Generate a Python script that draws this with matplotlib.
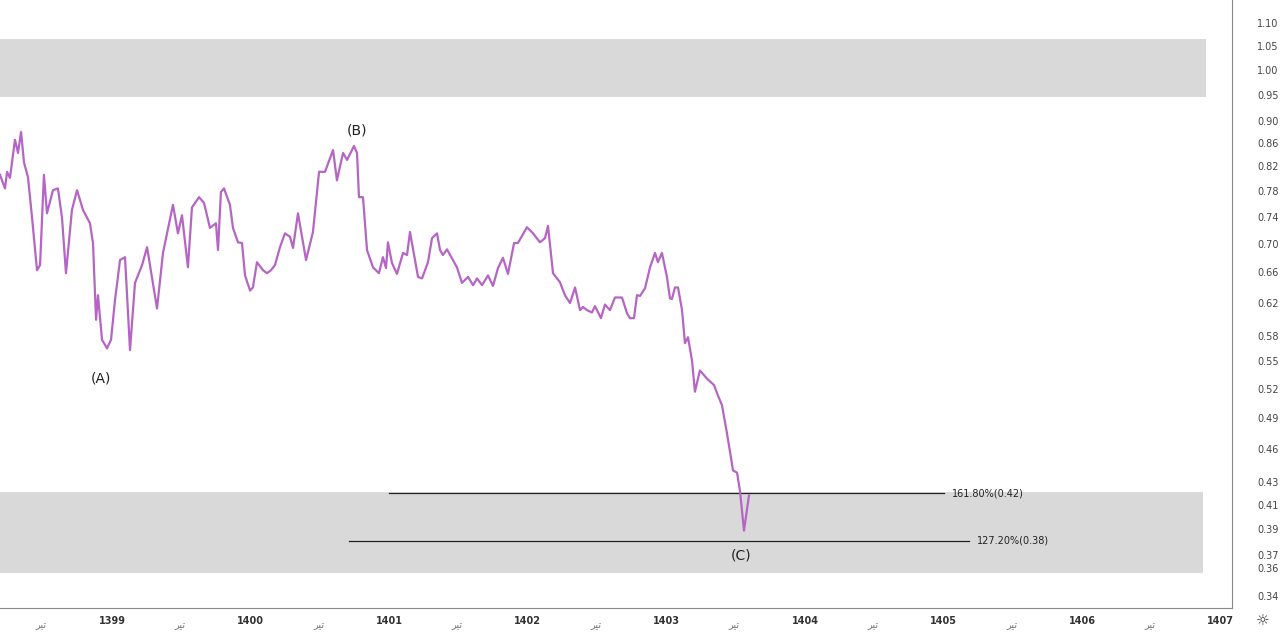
import matplotlib
matplotlib.use("Agg")
import matplotlib.pyplot as plt
from matplotlib.ticker import FixedLocator, NullLocator

years = [
    1398.192, 1398.228, 1398.243, 1398.264, 1398.300, 1398.322, 1398.344, 1398.365, 1398.394, 1398.423,
    1398.459, 1398.481, 1398.509, 1398.531, 1398.574, 1398.610, 1398.639, 1398.668, 1398.711, 1398.748,
    1398.791, 1398.841, 1398.863, 1398.885, 1398.899, 1398.928, 1398.964, 1398.993, 1399.022, 1399.058,
    1399.094, 1399.130, 1399.166, 1399.217, 1399.253, 1399.325, 1399.368, 1399.440, 1399.476, 1399.505,
    1399.548, 1399.577, 1399.628, 1399.664, 1399.707, 1399.750, 1399.765, 1399.786, 1399.808, 1399.851,
    1399.873, 1399.909, 1399.938, 1399.960, 1399.996, 1400.017, 1400.046, 1400.090, 1400.118, 1400.147,
    1400.176, 1400.212, 1400.248, 1400.284, 1400.306, 1400.342, 1400.400, 1400.450, 1400.494, 1400.537,
    1400.595, 1400.623, 1400.667, 1400.696, 1400.746, 1400.768, 1400.782, 1400.811, 1400.840, 1400.883,
    1400.926, 1400.955, 1400.977, 1400.991, 1401.020, 1401.056, 1401.100, 1401.129, 1401.150, 1401.208,
    1401.237, 1401.280, 1401.309, 1401.345, 1401.367, 1401.388, 1401.417, 1401.460, 1401.489, 1401.525,
    1401.569, 1401.605, 1401.634, 1401.670, 1401.713, 1401.749, 1401.785, 1401.821, 1401.857, 1401.901,
    1401.929, 1401.994, 1402.038, 1402.088, 1402.124, 1402.146, 1402.182, 1402.232, 1402.268, 1402.305,
    1402.341, 1402.377, 1402.398, 1402.427, 1402.463, 1402.485, 1402.528, 1402.557, 1402.593, 1402.629,
    1402.680, 1402.716, 1402.737, 1402.766, 1402.788, 1402.810, 1402.846, 1402.882, 1402.918, 1402.939,
    1402.968, 1403.004, 1403.026, 1403.040, 1403.062, 1403.084, 1403.113, 1403.134, 1403.156, 1403.185,
    1403.206, 1403.242, 1403.293, 1403.344, 1403.372, 1403.401, 1403.437, 1403.481, 1403.510, 1403.531,
    1403.560, 1403.596,
]
prices = [
    0.806, 0.784, 0.811, 0.801, 0.866, 0.843, 0.880, 0.827, 0.802, 0.739,
    0.663, 0.670, 0.806, 0.745, 0.781, 0.784, 0.739, 0.659, 0.750, 0.781,
    0.750, 0.730, 0.701, 0.599, 0.630, 0.575, 0.565, 0.575, 0.624, 0.677,
    0.681, 0.563, 0.646, 0.670, 0.695, 0.613, 0.687, 0.758, 0.715, 0.742,
    0.667, 0.754, 0.770, 0.761, 0.723, 0.730, 0.691, 0.778, 0.784, 0.758,
    0.723, 0.702, 0.701, 0.656, 0.636, 0.640, 0.674, 0.663, 0.659, 0.663,
    0.670, 0.695, 0.715, 0.710, 0.694, 0.745, 0.677, 0.717, 0.811, 0.811,
    0.848, 0.797, 0.843, 0.831, 0.855, 0.843, 0.770, 0.770, 0.691, 0.667,
    0.659, 0.681, 0.666, 0.702, 0.673, 0.658, 0.687, 0.684, 0.717, 0.654,
    0.652, 0.674, 0.708, 0.715, 0.691, 0.684, 0.692, 0.677, 0.667, 0.646,
    0.654, 0.643, 0.652, 0.643, 0.656, 0.642, 0.666, 0.680, 0.658, 0.701,
    0.701, 0.724, 0.715, 0.702, 0.708, 0.726, 0.659, 0.647, 0.630, 0.620,
    0.640, 0.611, 0.615, 0.611, 0.608, 0.616, 0.601, 0.618, 0.611, 0.627,
    0.627, 0.607, 0.601, 0.601, 0.630, 0.629, 0.639, 0.667, 0.687, 0.674,
    0.687, 0.654, 0.626, 0.625, 0.640, 0.640, 0.611, 0.571, 0.578, 0.551,
    0.517, 0.540, 0.531, 0.524, 0.513, 0.503, 0.475, 0.440, 0.438, 0.422,
    0.389, 0.418,
]

year_ticks = [1399, 1400, 1401, 1402, 1403, 1404, 1405, 1406, 1407]
month_ticks = [1398.49, 1399.49, 1400.49, 1401.49, 1402.49, 1403.49, 1404.49, 1405.49, 1406.49]
month_label = "\uFEAE\uFBFF\uFE97"  # تیر, pre-shaped
price_ticks = [1.10, 1.05, 1.00, 0.95, 0.90, 0.86, 0.82, 0.78, 0.74, 0.70, 0.66, 0.62,
               0.58, 0.55, 0.52, 0.49, 0.46, 0.43, 0.41, 0.39, 0.37, 0.36, 0.34]
bands = [(0.945, 1.0645, 1406.893), (0.357, 0.421, 1406.872)]
fib_levels = [("161.80%(0.42)", 0.42, 1400.999, 1405.003), ("127.20%(0.38)", 0.381, 1400.71, 1405.18)]
wave_labels = [("(A)", 1398.92, 0.531), ("(B)", 1400.768, 0.883), ("(C)", 1403.54, 0.370)]

x_min, x_max = 1398.192, 1407.081

fig = plt.figure(figsize=(12.8, 6.32), dpi=100)
ax = fig.add_axes([0, 24 / 632, 1232 / 1280, 608 / 632])
ax.set_yscale("log")
ax.set_xlim(x_min, x_max)
ax.set_ylim(0.332, 1.153)

for low, high, right in bands:
    ax.fill_between([x_min, right], low, high, color="#d9d9d9", linewidth=0, zorder=0)

ax.plot(years, prices, color="#b565c4", linewidth=1.6, zorder=3)

for label, level, start, end in fib_levels:
    ax.plot([start, end], [level, level], color="#222222", linewidth=0.9, zorder=2)
    ax.text(end + 0.06, level, label, fontsize=7, va="center", ha="left", color="#222222")

for label, x, y in wave_labels:
    ax.text(x, y, label, fontsize=10, ha="center", va="center", color="#222222")

for side in ["top", "left"]:
    ax.spines[side].set_visible(False)
ax.spines["right"].set_color("#888888")
ax.spines["bottom"].set_color("#888888")

ax.yaxis.tick_right()
ax.yaxis.set_major_locator(FixedLocator(price_ticks))
ax.yaxis.set_minor_locator(NullLocator())
ax.set_yticklabels([f"{v:.2f}" for v in price_ticks])
ax.tick_params(axis="y", length=0, labelsize=7, labelcolor="#444444", pad=18)

ax.set_xticks(year_ticks)
ax.set_xticklabels([str(y) for y in year_ticks], fontweight="bold")
ax.tick_params(axis="x", length=0, labelsize=7, labelcolor="#333333", pad=6)
for x in month_ticks:
    ax.text(x, -0.02, month_label, transform=ax.get_xaxis_transform(), fontsize=7,
            ha="center", va="top", color="#777777", family=["DejaVu Sans"])

fig.text(1263 / 1280, 11 / 632, "\u263C", fontsize=11, ha="center", va="center", color="#333333")

fig.savefig("out.png", dpi=100)
